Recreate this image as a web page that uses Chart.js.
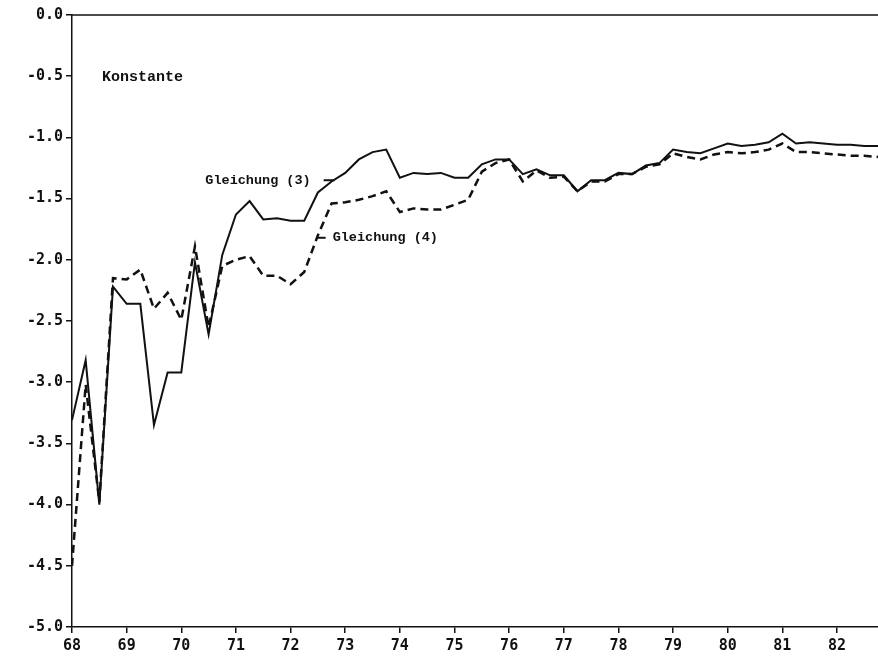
<!DOCTYPE html>
<html>
<head>
<meta charset="utf-8">
<script src="https://cdn.jsdelivr.net/npm/chart.js@4/dist/chart.umd.min.js"></script>
<style>
  html, body { margin: 0; padding: 0; background: #fff; }
  #wrap { width: 878px; height: 665px; position: relative; }
</style>
</head>
<body>
<div id="wrap"><canvas id="c" width="878" height="665"></canvas></div>
<script>
// Quarterly observations 1968 Q1 .. 1982 Q4 (x in years, 68 = 1968)
const quarters = [
  68, 68.25, 68.5, 68.75, 69, 69.25, 69.5, 69.75,
  70, 70.25, 70.5, 70.75, 71, 71.25, 71.5, 71.75,
  72, 72.25, 72.5, 72.75, 73, 73.25, 73.5, 73.75,
  74, 74.25, 74.5, 74.75, 75, 75.25, 75.5, 75.75,
  76, 76.25, 76.5, 76.75, 77, 77.25, 77.5, 77.75,
  78, 78.25, 78.5, 78.75, 79, 79.25, 79.5, 79.75,
  80, 80.25, 80.5, 80.75, 81, 81.25, 81.5, 81.75,
  82, 82.25, 82.5, 82.75
];
// Gleichung (3) – solid line
const gleichung3 = [
  -3.31, -2.82, -4.00, -2.22, -2.36, -2.36, -3.35, -2.92,
  -2.92, -2.02, -2.61, -1.96, -1.63, -1.52, -1.67, -1.66,
  -1.68, -1.68, -1.45, -1.36, -1.29, -1.18, -1.12, -1.10,
  -1.33, -1.29, -1.30, -1.29, -1.33, -1.33, -1.22, -1.18,
  -1.18, -1.30, -1.26, -1.31, -1.31, -1.44, -1.35, -1.35,
  -1.29, -1.30, -1.23, -1.21, -1.10, -1.12, -1.13, -1.09,
  -1.05, -1.07, -1.06, -1.04, -0.97, -1.05, -1.04, -1.05,
  -1.06, -1.06, -1.07, -1.07
];
// Gleichung (4) – dashed line
const gleichung4 = [
  -4.50, -3.02, -3.98, -2.15, -2.16, -2.08, -2.40, -2.27,
  -2.49, -1.89, -2.55, -2.05, -2.00, -1.97, -2.13, -2.13,
  -2.20, -2.10, -1.80, -1.54, -1.53, -1.51, -1.48, -1.44,
  -1.61, -1.58, -1.59, -1.59, -1.55, -1.51, -1.28, -1.21,
  -1.18, -1.36, -1.27, -1.33, -1.32, -1.44, -1.36, -1.36,
  -1.30, -1.30, -1.24, -1.22, -1.13, -1.16, -1.18, -1.14,
  -1.12, -1.13, -1.12, -1.10, -1.05, -1.12, -1.12, -1.13,
  -1.14, -1.15, -1.15, -1.16
];
const xTicks = [68, 69, 70, 71, 72, 73, 74, 75, 76, 77, 78, 79, 80, 81, 82];
const yTicks = [0, -0.5, -1, -1.5, -2, -2.5, -3, -3.5, -4, -4.5, -5];
const panelTitle = 'Konstante';
const seriesNames = ['Gleichung (3)', 'Gleichung (4)'];

const toXY = (vals) => vals.map((v, i) => ({ x: quarters[i], y: v }));

const annotations = {
  id: 'annotations',
  afterDatasetsDraw(chart) {
    const { ctx, chartArea, scales: { x, y } } = chart;
    ctx.save();
    // top frame line at 0.0
    ctx.strokeStyle = '#111';
    ctx.lineWidth = 1.5;
    ctx.beginPath();
    ctx.moveTo(chartArea.left, chartArea.top);
    ctx.lineTo(chartArea.right, chartArea.top);
    ctx.stroke();

    ctx.fillStyle = '#111';
    ctx.textBaseline = 'middle';
    ctx.textAlign = 'left';
    ctx.font = 'bold 15px "Liberation Mono", "DejaVu Sans Mono", monospace';
    ctx.fillText(panelTitle, x.getPixelForValue(68.55), y.getPixelForValue(-0.51));

    ctx.font = 'bold 13.5px "Liberation Mono", "DejaVu Sans Mono", monospace';
    const y3 = y.getPixelForValue(-1.35);
    const x3 = x.getPixelForValue(70.44);
    ctx.fillText(seriesNames[0], x3, y3);
    const w3 = ctx.measureText(seriesNames[0]).width;
    ctx.lineWidth = 2;
    ctx.beginPath();
    ctx.moveTo(x3 + w3 + 13, y3);
    ctx.lineTo(x3 + w3 + 24, y3);
    ctx.stroke();

    const y4 = y.getPixelForValue(-1.82);
    const x4 = x.getPixelForValue(72.77);
    ctx.fillText(seriesNames[1], x4, y4);
    ctx.beginPath();
    ctx.moveTo(x4 - 16, y4);
    ctx.lineTo(x4 - 7, y4);
    ctx.stroke();
    ctx.restore();
  }
};

new Chart(document.getElementById('c'), {
  type: 'line',
  data: {
    datasets: [
      {
        label: seriesNames[0],
        data: toXY(gleichung3),
        borderColor: '#111',
        borderWidth: 2,
        pointRadius: 0,
        tension: 0,
        fill: false
      },
      {
        label: seriesNames[1],
        data: toXY(gleichung4),
        borderColor: '#111',
        borderWidth: 2.5,
        borderDash: [8, 5],
        pointRadius: 0,
        tension: 0,
        fill: false
      }
    ]
  },
  options: {
    responsive: false,
    animation: false,
    events: [],
    layout: { padding: { top: 15, right: 0, bottom: 0, left: 0 } },
    plugins: { legend: { display: false }, tooltip: { enabled: false }, title: { display: false } },
    scales: {
      x: {
        type: 'linear',
        min: 68,
        max: 82.75,
        afterBuildTicks: (s) => { s.ticks = xTicks.map(v => ({ value: v })); },
        afterFit: (s) => { s.height = 38; },
        border: { display: true, color: '#111', width: 1.5 },
        grid: { display: true, drawOnChartArea: false, drawTicks: true, tickLength: 6, color: '#111', lineWidth: 1.5 },
        ticks: {
          color: '#111',
          padding: 4,
          maxRotation: 0,
          autoSkip: false,
          font: { family: '"DejaVu Sans Mono", monospace', size: 15, weight: 'bold' },
          callback: (v) => String(v)
        }
      },
      y: {
        type: 'linear',
        min: -5,
        max: 0,
        afterBuildTicks: (s) => { s.ticks = yTicks.map(v => ({ value: v })); },
        afterFit: (s) => { s.width = 72; },
        border: { display: true, color: '#111', width: 1.5 },
        grid: { display: true, drawOnChartArea: false, drawTicks: true, tickLength: 6, color: '#111', lineWidth: 1.5 },
        ticks: {
          color: '#111',
          padding: 3,
          autoSkip: false,
          font: { family: '"DejaVu Sans Mono", monospace', size: 15, weight: 'bold' },
          callback: (v) => (v === 0 ? '0.0' : '-' + Math.abs(v).toFixed(1))
        }
      }
    }
  },
  plugins: [annotations]
});
</script>
</body>
</html>
